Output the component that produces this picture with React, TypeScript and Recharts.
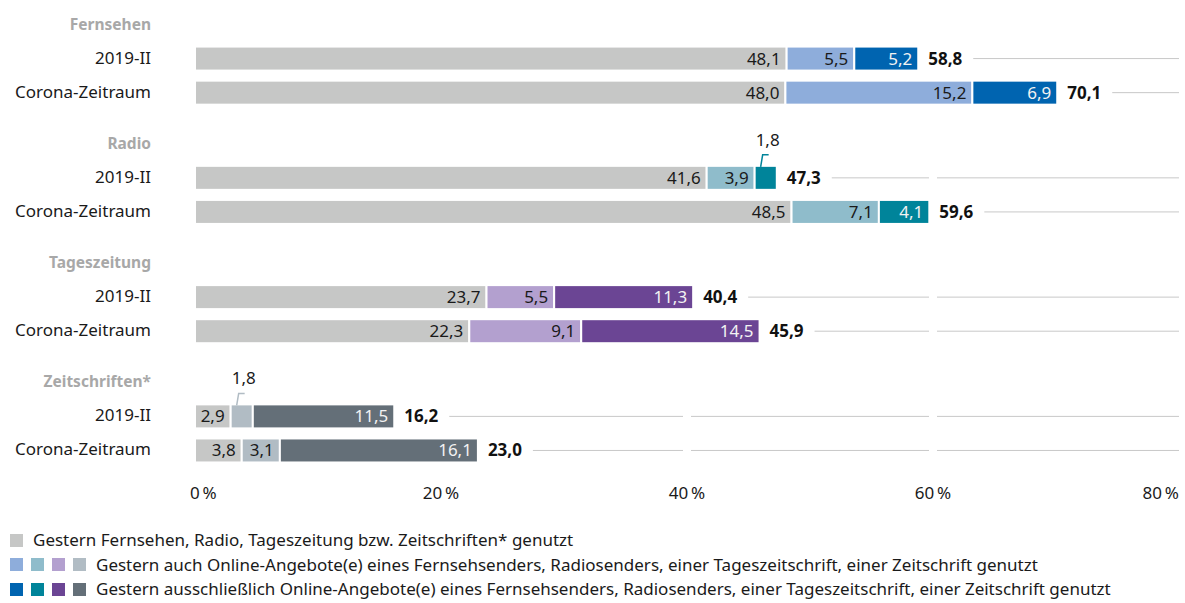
import React from "react";
import { BarChart, Bar, XAxis, YAxis } from "recharts";

const GROUPS = ["Fernsehen", "Radio", "Tageszeitung", "Zeitschriften*"];
const PERIODS = ["2019-II", "Corona-Zeitraum"];

// order: per group, 2019-II then Corona-Zeitraum
const BASE = [48.1, 48.0, 41.6, 48.5, 23.7, 22.3, 2.9, 3.8];
const ONLINE = [5.5, 15.2, 3.9, 7.1, 5.5, 9.1, 1.8, 3.1];
const EXCLUSIVE = [5.2, 6.9, 1.8, 4.1, 11.3, 14.5, 11.5, 16.1];
const TOTALS = [58.8, 70.1, 47.3, 59.6, 40.4, 45.9, 16.2, 23.0];

const X_TICKS = [0, 20, 40, 60, 80];

const LEGEND_LINES = [
  "Gestern Fernsehen, Radio, Tageszeitung bzw. Zeitschriften* genutzt",
  "Gestern auch Online-Angebote(e) eines Fernsehsenders, Radiosenders, einer Tageszeitschrift, einer Zeitschrift genutzt",
  "Gestern ausschließlich Online-Angebote(e) eines Fernsehsenders, Radiosenders, einer Tageszeitschrift, einer Zeitschrift genutzt",
];

const BASE_COLOR = "#c6c7c6";
const ONLINE_COLORS = ["#8eaddb", "#8fbccb", "#b3a0cf", "#b1bcc4"];
const EXCLUSIVE_COLORS = ["#0064b0", "#00849a", "#6b4594", "#646f78"];

const FONT = "'Noto Sans', 'Open Sans', sans-serif";
const FS = 17;
const TEXT = "#1a1a1a";
const BAR_H = 24;

type Row = {
  key: string;
  label: string;
  kind: "header" | "bar" | "spacer";
  group: number;
  i: number;
  base: number | null;
  online: number | null;
  exclusive: number | null;
};

const rows: Row[] = [];
GROUPS.forEach((g, gi) => {
  const blank = (n: number): Row => ({
    key: `s${gi}-${n}`, label: "", kind: "spacer", group: gi, i: -1,
    base: null, online: null, exclusive: null,
  });
  rows.push({ key: `h${gi}`, label: g, kind: "header", group: gi, i: -1, base: null, online: null, exclusive: null });
  PERIODS.forEach((p, pi) => {
    const i = gi * 2 + pi;
    rows.push(blank(pi));
    rows.push({
      key: `b${i}`, label: p, kind: "bar", group: gi, i,
      base: BASE[i], online: ONLINE[i], exclusive: EXCLUSIVE[i],
    });
  });
  if (gi < GROUPS.length - 1) {
    rows.push(blank(5));
    rows.push(blank(6));
  }
});

const fmt = (v: number) => v.toFixed(1).replace(".", ",");

const YTick = (props: any) => {
  const { x, y, payload } = props;
  const row = rows.find((r) => r.key === payload.value);
  if (!row || row.kind === "spacer") return <g />;
  const header = row.kind === "header";
  return (
    <text
      x={x - 44}
      y={y + 6}
      textAnchor="end"
      fontSize={header ? 15.5 : FS}
      fontFamily={FONT}
      fontWeight={header ? 700 : 400}
      fill={header ? "#a8a8a8" : TEXT}
    >
      {row.label}
    </text>
  );
};

const XTick = (props: any) => {
  const { x, y, payload, index } = props;
  const anchor = index === 0 ? "start" : index === X_TICKS.length - 1 ? "end" : "middle";
  const dx = index === 0 ? -5 : 0;
  return (
    <text x={x + dx} y={y + 41} textAnchor={anchor} fontSize={FS} fontFamily={FONT} fill={TEXT}>
      {`${payload.value}\u2009%`}
    </text>
  );
};

const makeShape = (series: "base" | "online" | "exclusive") => (props: any) => {
  const { x, width, payload } = props;
  const row: Row = payload;
  if (!row || row.kind !== "bar" || !width) return <g />;
  const cy = props.y + props.height / 2 + 1;
  const y = cy - BAR_H / 2;
  const height = BAR_H;
  const value = row[series] as number;
  const fill =
    series === "base" ? BASE_COLOR : series === "online" ? ONLINE_COLORS[row.group] : EXCLUSIVE_COLORS[row.group];
  const light = series === "exclusive";
  const els: React.ReactNode[] = [];
  els.push(<rect key="r" x={x} y={y} width={width} height={height} fill={fill} stroke="#fff" strokeWidth={2} />);
  if (width < 26) {
    const lx = x + 6;
    const top = y + 1;
    els.push(
      <polyline
        key="l"
        points={`${lx},${top} ${lx + 2},${top - 12} ${lx + 8},${top - 12}`}
        fill="none"
        stroke={fill}
        strokeWidth={1.5}
      />
    );
    els.push(
      <text key="t" x={lx + 7} y={top - 21} textAnchor="middle" fontSize={FS} fontFamily={FONT} fill={TEXT}>
        {fmt(value)}
      </text>
    );
  } else {
    els.push(
      <text
        key="t"
        x={x + width - 6}
        y={cy + 6}
        textAnchor="end"
        fontSize={FS}
        fontFamily={FONT}
        fill={light ? "#f2f2f2" : TEXT}
      >
        {fmt(value)}
      </text>
    );
  }
  if (series === "exclusive") {
    const end = x + width;
    els.push(
      <text key="tot" x={end + 10} y={cy + 6} fontSize={FS} fontWeight={700} fontFamily={FONT} fill="#111">
        {fmt(TOTALS[row.i])}
      </text>
    );
    // row line, broken at the grid positions
    const ppu = width / value;
    const origin = x - ((row.base as number) + (row.online as number)) * ppu;
    const gx = (t: number) => origin + t * ppu;
    let start = end + 55;
    const stop = gx(X_TICKS[X_TICKS.length - 1]);
    const segs: [number, number][] = [];
    X_TICKS.slice(1, -1).forEach((t) => {
      const g = gx(t);
      if (g - 4 > start) {
        segs.push([start, g - 4]);
        start = g + 4;
      } else if (g + 4 > start) {
        start = g + 4;
      }
    });
    segs.push([start, stop]);
    segs.forEach(([a, b], k) => {
      if (b > a) els.push(<line key={`g${k}`} x1={a} x2={b} y1={cy} y2={cy} stroke="#c8c8c8" strokeWidth={1} />);
    });
  }
  return <g>{els}</g>;
};

const Square = ({ color }: { color: string }) => (
  <span style={{ display: "inline-block", width: 13, height: 13, background: color, marginRight: 8, flex: "none" }} />
);

export default function App() {
  return (
    <div style={{ position: "absolute", left: 0, top: 0, width: 1185, height: 603, background: "#fff" }}>
      <BarChart
        width={1185}
        height={510}
        data={rows}
        layout="vertical"
        margin={{ top: 15, right: 6, bottom: 0, left: 0 }}
        barCategoryGap={0}
      >
        <XAxis
          type="number"
          domain={[0, 80]}
          ticks={X_TICKS}
          axisLine={false}
          tickLine={false}
          tickSize={0}
          tickMargin={0}
          height={52}
          tick={<XTick />}
          interval={0}
        />
        <YAxis
          type="category"
          dataKey="key"
          width={195}
          axisLine={false}
          tickLine={false}
          tickSize={0}
          tickMargin={0}
          interval={0}
          tick={<YTick />}
        />
        <Bar dataKey="base" stackId="a" isAnimationActive={false} shape={makeShape("base")} />
        <Bar dataKey="online" stackId="a" isAnimationActive={false} shape={makeShape("online")} />
        <Bar dataKey="exclusive" stackId="a" isAnimationActive={false} shape={makeShape("exclusive")} />
      </BarChart>
      <div style={{ position: "absolute", left: 10, top: 528, fontFamily: FONT, fontSize: FS, color: TEXT, lineHeight: "24.5px" }}>
        <div style={{ display: "flex", alignItems: "center", whiteSpace: "nowrap" }}>
          <Square color={BASE_COLOR} />
          <span style={{ marginLeft: 2 }}>{LEGEND_LINES[0]}</span>
        </div>
        <div style={{ display: "flex", alignItems: "center", whiteSpace: "nowrap" }}>
          {ONLINE_COLORS.map((c) => (
            <Square key={c} color={c} />
          ))}
          <span style={{ marginLeft: 2 }}>{LEGEND_LINES[1]}</span>
        </div>
        <div style={{ display: "flex", alignItems: "center", whiteSpace: "nowrap" }}>
          {EXCLUSIVE_COLORS.map((c) => (
            <Square key={c} color={c} />
          ))}
          <span style={{ marginLeft: 2 }}>{LEGEND_LINES[2]}</span>
        </div>
      </div>
    </div>
  );
}
